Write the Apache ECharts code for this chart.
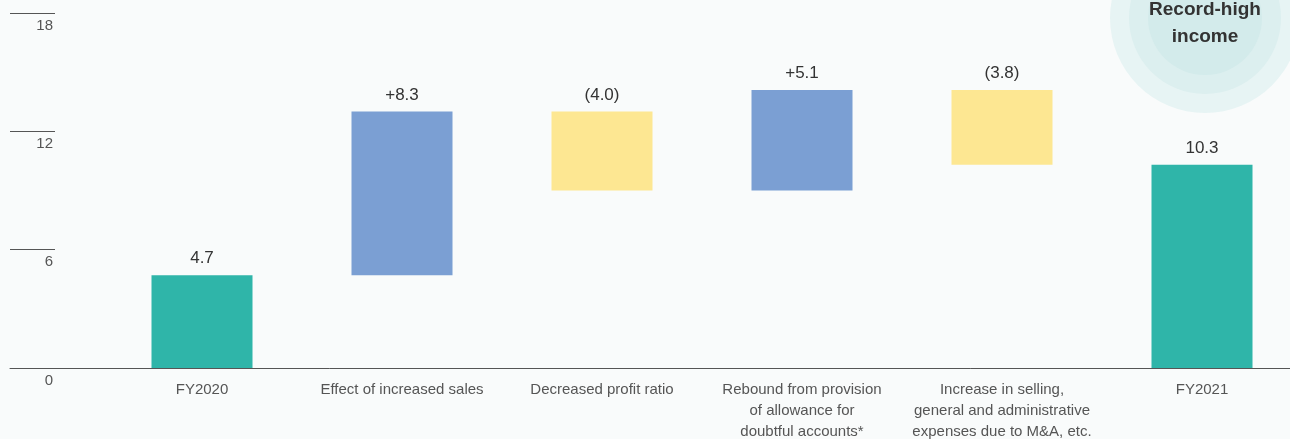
<!DOCTYPE html>
<html>
<head>
<meta charset="utf-8">
<style>
  html, body { margin: 0; padding: 0; background: #f9fbfb; }
  #chart { width: 1290px; height: 439px; }
</style>
<script src="https://cdn.jsdelivr.net/npm/echarts@6/dist/echarts.min.js"></script>
</head>
<body>
<div id="chart"></div>
<script>
const categories = [
  'FY2020',
  'Effect of increased sales',
  'Decreased profit ratio',
  'Rebound from provision\nof allowance for\ndoubtful accounts*',
  'Increase in selling,\ngeneral and administrative\nexpenses due to M&A, etc.',
  'FY2021'
]
const changes = [4.7, 8.3, -4.0, 5.1, -3.8, 10.3]
const kinds = ['total', 'up', 'down', 'up', 'down', 'total']
const valueLabels = ['4.7', '+8.3', '(4.0)', '+5.1', '(3.8)', '10.3']
const yTicks = [0, 6, 12, 18]

const colors = { total: '#2fb5a9', up: '#7b9fd3', down: '#fde792' }
const font = '"Liberation Sans", Arial, sans-serif'

// waterfall: invisible base + visible step
const base = []
const step = []
let running = 0
changes.forEach((v, i) => {
  if (kinds[i] === 'total') {
    base.push(0)
    step.push(v)
    running = v
  } else if (v >= 0) {
    base.push(running)
    step.push(v)
    running += v
  } else {
    running += v
    base.push(+running.toFixed(1))
    step.push(-v)
  }
})

const chart = echarts.init(document.getElementById('chart'))
chart.setOption({
  backgroundColor: '#f9fbfb',
  animation: false,
  textStyle: { fontFamily: font },
  graphic: [
    { type: 'circle', shape: { cx: 1205, cy: 18, r: 95 }, style: { fill: '#e7f4f4' }, z: 0 },
    { type: 'circle', shape: { cx: 1205, cy: 18, r: 76 }, style: { fill: '#dcefef' }, z: 0 },
    { type: 'circle', shape: { cx: 1205, cy: 18, r: 57 }, style: { fill: '#d3ebeb' }, z: 0 },
    {
      type: 'text',
      x: 1205,
      y: 23,
      z: 1,
      style: {
        text: 'Record-high\nincome',
        fill: '#333',
        font: 'bold 19px ' + font,
        lineHeight: 27,
        align: 'center',
        verticalAlign: 'middle'
      }
    }
  ],
  grid: [
    { left: 10, right: 0, top: 13, bottom: 71, outerBoundsMode: 'none' },
    { left: 102, width: 1200, top: 13, bottom: 71, outerBoundsMode: 'none' }
  ],
  xAxis: [
    {
      gridIndex: 0,
      type: 'value',
      min: 0,
      max: 1,
      axisLine: { show: true, lineStyle: { color: '#555', width: 1 } },
      axisTick: { show: false },
      axisLabel: { show: false },
      splitLine: { show: false }
    },
    {
      gridIndex: 1,
      type: 'category',
      data: categories,
      axisLine: { show: false },
      axisTick: { show: false },
      axisLabel: {
        interval: 0,
        color: '#555',
        fontSize: 15,
        lineHeight: 21,
        margin: 11,
        fontFamily: font
      }
    }
  ],
  yAxis: [
    {
      gridIndex: 0,
      type: 'value',
      min: yTicks[0],
      max: yTicks[yTicks.length - 1],
      interval: yTicks[1] - yTicks[0],
      axisLine: { show: false },
      axisTick: { show: true, inside: true, length: 45, lineStyle: { color: '#555' } },
      axisLabel: {
        inside: true,
        align: 'right',
        margin: 43,
        verticalAlign: 'top',
        padding: [5, 0, 0, 0],
        color: '#555',
        fontSize: 15,
        fontFamily: font
      },
      splitLine: { show: false }
    },
    {
      gridIndex: 1,
      type: 'value',
      min: yTicks[0],
      max: yTicks[yTicks.length - 1],
      show: false
    }
  ],
  series: [
    {
      type: 'bar',
      xAxisIndex: 1,
      yAxisIndex: 1,
      stack: 'wf',
      barWidth: 101,
      itemStyle: { color: 'transparent' },
      data: base,
      silent: true
    },
    {
      type: 'bar',
      xAxisIndex: 1,
      yAxisIndex: 1,
      stack: 'wf',
      barWidth: 101,
      data: step.map((v, i) => ({ value: v, itemStyle: { color: colors[kinds[i]] } })),
      label: {
        show: true,
        position: 'top',
        distance: 8,
        color: '#333',
        fontSize: 17,
        fontFamily: font,
        formatter: p => valueLabels[p.dataIndex]
      }
    }
  ]
})
</script>
</body>
</html>
